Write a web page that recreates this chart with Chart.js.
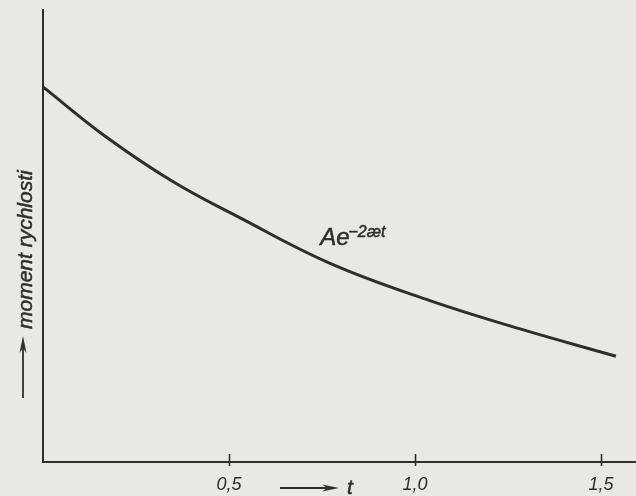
<!DOCTYPE html>
<html>
<head>
<meta charset="utf-8">
<script src="https://cdn.jsdelivr.net/npm/chart.js@4"></script>
<style>
  html, body { margin:0; padding:0; background:#e8e8e6; }
  #wrap { width:636px; height:496px; position:relative; }
</style>
</head>
<body>
<div id="wrap"><canvas id="decay"></canvas></div>
<script>
/* ---------- Data ---------- */
const tValues      = [0, 0.17, 0.35, 0.53, 0.77, 1.04, 1.28, 1.54];
const momentValues = [0.830, 0.719, 0.620, 0.540, 0.440, 0.357, 0.295, 0.234];
const xTicks       = [0.5, 1.0, 1.5];
const yTitle       = 'moment rychlosti';
const xTitle       = 't';
const curveLabel   = { base:'Ae', sup:'\u22122æt', t:0.745, v:0.480 };

/* ---------- Helpers ---------- */
const INK   = '#2e2e2e';
const PAPER = '#e8e8e6';
const FONT  = '"Liberation Sans", Arial, sans-serif';
const fmtComma = (v)=> v.toFixed(1).replace('.', ',');

function arrow(ctx, x1, y1, x2, y2, head=15, half=3){
  const a = Math.atan2(y2-y1, x2-x1);
  ctx.beginPath(); ctx.moveTo(x1, y1); ctx.lineTo(x2 - Math.cos(a)*head*0.6, y2 - Math.sin(a)*head*0.6); ctx.stroke();
  ctx.beginPath();
  ctx.moveTo(x2, y2);
  ctx.lineTo(x2 - Math.cos(a)*head - Math.sin(a)*half, y2 - Math.sin(a)*head + Math.cos(a)*half);
  ctx.lineTo(x2 - Math.cos(a)*head*0.7, y2 - Math.sin(a)*head*0.7);
  ctx.lineTo(x2 - Math.cos(a)*head + Math.sin(a)*half, y2 - Math.sin(a)*head - Math.cos(a)*half);
  ctx.closePath(); ctx.fill();
}
// slightly heavier lettering, like the printed figure
function inkText(ctx, s, x, y){ ctx.fillText(s, x, y); ctx.lineWidth = 0.5; ctx.strokeText(s, x, y); }

/* paper background + figure extras */
const figurePlugin = {
  id: 'figure',
  beforeDraw(chart){
    const {ctx, width, height} = chart;
    ctx.save(); ctx.fillStyle = PAPER; ctx.fillRect(0, 0, width, height); ctx.restore();
  },
  afterDraw(chart){
    const {ctx, chartArea, scales:{x, y}} = chart;
    ctx.save();
    ctx.strokeStyle = INK; ctx.fillStyle = INK; ctx.lineWidth = 1.6;

    // tick marks crossing the t axis
    for (const v of xTicks){
      const px = Math.round(x.getPixelForValue(v)) + 0.5;
      ctx.beginPath(); ctx.moveTo(px, chartArea.bottom - 8); ctx.lineTo(px, chartArea.bottom + 4); ctx.stroke();
    }

    // y title with arrow
    ctx.lineWidth = 1.8;
    arrow(ctx, 23, 398, 23, 336, 17, 3.5);
    ctx.save();
    ctx.translate(32, 329); ctx.rotate(-Math.PI/2);
    ctx.font = `italic 21px ${FONT}`; ctx.textAlign = 'left'; ctx.textBaseline = 'alphabetic';
    inkText(ctx, yTitle, 0, 0);
    ctx.restore();

    // x title with arrow
    ctx.lineWidth = 1.8;
    arrow(ctx, 280, 488, 339, 488, 17, 3.5);
    ctx.font = `italic 21px ${FONT}`; ctx.textAlign = 'left'; ctx.textBaseline = 'alphabetic';
    inkText(ctx, xTitle, 347, 494);

    // curve label  A e^{-2æt}
    const lx = x.getPixelForValue(curveLabel.t), ly = y.getPixelForValue(curveLabel.v);
    ctx.font = `italic 24px ${FONT}`;
    inkText(ctx, curveLabel.base, lx, ly);
    const w = ctx.measureText(curveLabel.base).width;
    ctx.font = `italic 16px ${FONT}`;
    inkText(ctx, curveLabel.sup, lx + w - 1, ly - 8);
    ctx.restore();
  }
};

new Chart(document.getElementById('decay'), {
  type: 'line',
  data: {
    datasets: [{
      data: tValues.map((t, i)=>({x:t, y:momentValues[i]})),
      borderColor: INK,
      borderWidth: 3,
      pointRadius: 0,
      tension: 0.4,
      fill: false
    }]
  },
  options: {
    responsive: true,
    maintainAspectRatio: false,
    animation: false,
    layout: { padding: { top:10, right:0, left:0, bottom:0 } },
    plugins: { legend:{ display:false }, tooltip:{ enabled:false } },
    scales: {
      x: {
        type: 'linear', min: 0, max: 1.594,
        afterFit: (s)=>{ s.height = 34; },
        afterBuildTicks: (s)=>{ s.ticks = xTicks.map(v=>({value:v})); },
        grid: { display:false, drawTicks:false },
        border: { display:true, color:INK, width:2 },
        ticks: {
          padding: 12,
          color: INK,
          font: { family:FONT, size:18, style:'italic' },
          callback: (v)=> fmtComma(v)
        }
      },
      y: {
        type: 'linear', min: 0, max: 1,
        afterFit: (s)=>{ s.width = 43; },
        grid: { display:false, drawTicks:false },
        border: { display:true, color:INK, width:2 },
        ticks: { display:false }
      }
    }
  },
  plugins: [figurePlugin]
});
</script>
</body>
</html>
